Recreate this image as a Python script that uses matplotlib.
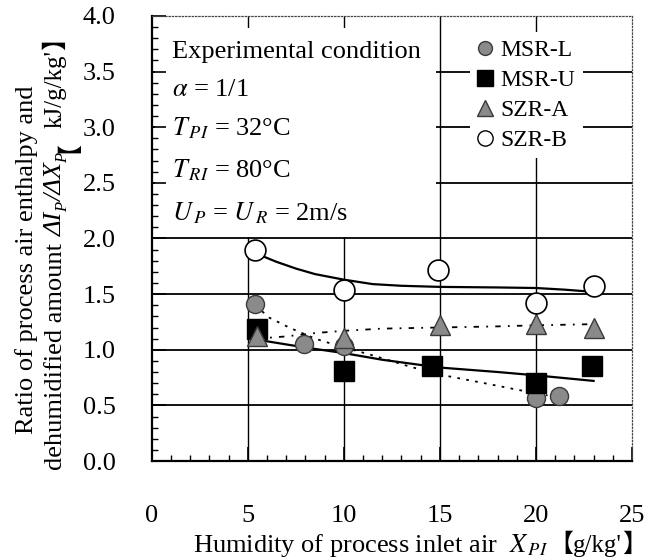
import matplotlib.pyplot as plt
from matplotlib.lines import Line2D
import numpy as np

plt.rcParams['font.family'] = ['Liberation Serif', 'Noto Sans CJK JP']
plt.rcParams['mathtext.fontset'] = 'stix'

# measured points
msr_l_x = [5.4, 7.9, 10.0, 20.0, 21.2]
msr_l_y = [1.41, 1.05, 1.03, 0.57, 0.58]
msr_u_x = [5.5, 10.0, 14.6, 20.0, 22.9]
msr_u_y = [1.19, 0.81, 0.85, 0.70, 0.85]
szr_a_x = [5.5, 10.0, 15.0, 20.0, 23.0]
szr_a_y = [1.12, 1.11, 1.22, 1.23, 1.20]
szr_b_x = [5.4, 10.0, 14.9, 20.0, 23.0]
szr_b_y = [1.90, 1.54, 1.72, 1.42, 1.57]

# trend curves
szr_b_fit_x = [5.5, 6.5, 7.5, 8.5, 10.0, 11.5, 13.0, 15.0, 18.0, 20.0, 21.5, 23.0]
szr_b_fit_y = [1.86, 1.79, 1.73, 1.68, 1.63, 1.59, 1.575, 1.565, 1.56, 1.555, 1.54, 1.52]
msr_u_fit_x = [5.5, 8.0, 10.0, 12.0, 15.0, 18.0, 20.0, 23.0]
msr_u_fit_y = [1.09, 1.02, 0.97, 0.91, 0.84, 0.80, 0.77, 0.72]
szr_a_fit_x = [5.5, 7.0, 8.5, 10.0, 12.0, 15.0, 18.0, 20.0, 23.0]
szr_a_fit_y = [1.10, 1.12, 1.15, 1.17, 1.19, 1.20, 1.21, 1.22, 1.23]
msr_l_fit_x = [5.4, 6.1, 7.15, 8.5, 10.0, 11.3, 13.4, 14.9, 17.3, 19.05, 20.6]
msr_l_fit_y = [1.40, 1.29, 1.20, 1.10, 1.02, 0.96, 0.85, 0.78, 0.70, 0.64, 0.59]

labels = ['MSR-L', 'MSR-U', 'SZR-A', 'SZR-B']
x_ticks = [0, 5, 10, 15, 20, 25]
y_ticks = [0.0, 0.5, 1.0, 1.5, 2.0, 2.5, 3.0, 3.5, 4.0]

conditions = ['Experimental condition',
              r'$\alpha$ = 1/1',
              r'$T_{\,PI}$ = 32°C',
              r'$T_{\,RI}$ = 80°C',
              r'$U_{\,P}$ = $U_{\,R}$ = 2m/s']

fig = plt.figure(figsize=(6.52, 5.59), dpi=100)
ax = fig.add_axes([0.2327, 0.1753, 0.7367, 0.7961])
ax.set_xlim(0, 25)
ax.set_ylim(0, 4)

# grid drawn by hand so the text boxes can sit over it but under the ticks
for yv in y_ticks[1:-1]:
    ax.axhline(yv, color='black', lw=1.3, zorder=0.5)
for xv in x_ticks[1:-1]:
    ax.axvline(xv, color='black', lw=1.0, zorder=0.5)

ax.add_patch(plt.Rectangle((0.007, 0.503), 0.585, 0.47, transform=ax.transAxes,
                           facecolor='white', edgecolor='none', zorder=0.8))

ax.plot(szr_b_fit_x, szr_b_fit_y, color='black', lw=1.6, zorder=2)
ax.plot(msr_u_fit_x, msr_u_fit_y, color='black', lw=1.6, zorder=2)
ax.plot(szr_a_fit_x, szr_a_fit_y, color='black', lw=1.3, ls=(0, (3, 4, 1, 4)), zorder=2)
ax.plot(msr_l_fit_x, msr_l_fit_y, color='black', lw=1.3, ls=(0, (1.5, 3.5)), zorder=2)

ax.plot(msr_l_x, msr_l_y, 'o', ms=13, mfc='#8a8a8a', mec='#3a3a3a', mew=1, zorder=3)
ax.plot(msr_u_x, msr_u_y, 's', ms=15, mfc='black', mec='black', zorder=3)
ax.plot(szr_a_x, szr_a_y, '^', ms=15, mfc='#8a8a8a', mec='#3a3a3a', mew=1, zorder=4)
ax.plot(szr_b_x, szr_b_y, 'o', ms=15, mfc='white', mec='black', mew=1.2, zorder=4)

handles = [
    Line2D([], [], ls='none', marker='o', ms=10, mfc='#8a8a8a', mec='#3a3a3a'),
    Line2D([], [], ls='none', marker='s', ms=11, mfc='black', mec='black'),
    Line2D([], [], ls='none', marker='^', ms=11, mfc='#8a8a8a', mec='#3a3a3a'),
    Line2D([], [], ls='none', marker='o', ms=11, mfc='white', mec='black'),
]
leg = ax.legend(handles, labels, loc='upper left', bbox_to_anchor=(0.638, 0.99),
                fontsize=17, frameon=True, facecolor='white', edgecolor='none',
                framealpha=1, fancybox=False, handlelength=0.7, handletextpad=0.3,
                labelspacing=0.36, borderpad=0.3)

cond_y = [0.919, 0.834, 0.748, 0.654, 0.557]
for txt, yy in zip(conditions, cond_y):
    ax.text(0.042, yy, txt, transform=ax.transAxes, fontsize=19, va='center', ha='left', zorder=6)

ax.set_xticks(x_ticks)
ax.set_yticks(y_ticks)
ax.set_xticklabels([str(v) for v in x_ticks])
ax.set_yticklabels(['%.1f' % v for v in y_ticks])
ax.set_xticks(np.arange(0, 25, 1), minor=True)
ax.set_yticks(np.arange(0, 4.0, 0.1), minor=True)
ax.tick_params(which='major', direction='in', length=10, width=1.2, labelsize=19)
ax.tick_params(axis='y', which='major', pad=26)
ax.tick_params(axis='x', which='major', pad=32)
ax.tick_params(which='minor', direction='in', length=4, width=1)
ax.tick_params(top=False, right=False, which='both')

for s in ['left', 'bottom']:
    ax.spines[s].set_linewidth(1.6)
for s in ['top', 'right']:
    ax.spines[s].set_linewidth(0.9)
    ax.spines[s].set_linestyle(':')
    ax.spines[s].set_color('#444444')

# axis titles, pieced together so the CJK brackets come from the CJK font
W, H = 652.0, 559.0
cjk = 'Noto Sans CJK JP'
serif = 'Liberation Serif'
xa = fig.text(193 / W, 1 - 552 / H, r'Humidity of process inlet air  $X_{\,PI}$',
              fontsize=19, ha='left', va='baseline')
fig.text(27 / W, 1 - 434 / H, 'Ratio of process air enthalpy and', fontsize=19,
         rotation=90, ha='center', va='bottom')

fig.canvas.draw()
r = fig.canvas.get_renderer()
prev = xa
for piece, fam in [('【', cjk), ("g/kg'", serif), ('】', cjk)]:
    b = prev.get_window_extent(r)
    prev = fig.text(b.x1 / W, 1 - 552 / H, piece, fontsize=18, family=fam,
                    ha='left', va='baseline')
    fig.canvas.draw()

# second line of the y title: (text, family, style, size, sideways shift in px)
y_mid = 56
y_pieces = [('dehumidified amount ', serif, 'normal', 19, 0),
            ('ΔI', serif, 'italic', 19, 0),
            ('P', serif, 'italic', 12, 7),
            ('/ΔX', serif, 'italic', 19, 0),
            ('P', serif, 'italic', 12, 7),
            ('【', cjk, 'normal', 18, 0),
            ("kJ/g/kg'", serif, 'normal', 18, 0),
            ('】', cjk, 'normal', 18, 0)]
y_pos = 1 - 470 / H
for piece, fam, sty, size, dx in y_pieces:
    t = fig.text((y_mid + dx) / W, y_pos, piece, fontsize=size, family=fam, style=sty,
                 rotation=90, ha='center', va='bottom')
    fig.canvas.draw()
    y_pos = t.get_window_extent(r).y1 / H

fig.savefig('out.png', dpi=100)
